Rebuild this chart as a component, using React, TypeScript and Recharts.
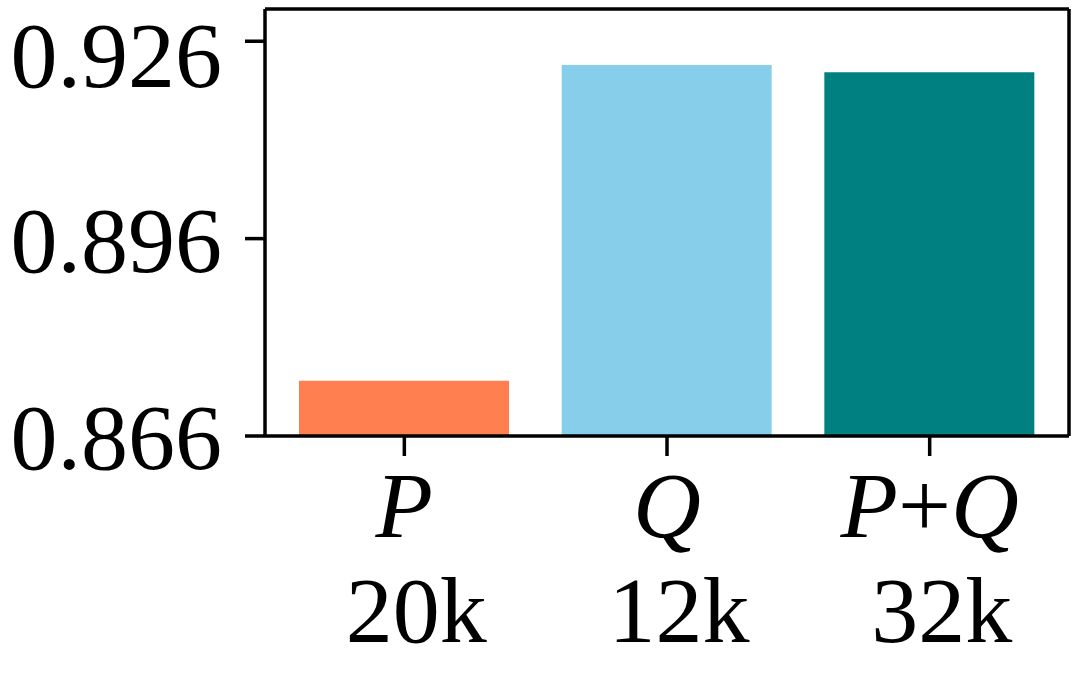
import React from "react";
import { BarChart, Bar, XAxis, YAxis, Cell } from "recharts";

const categories = ["P", "Q", "P+Q"];
const sizes = ["20k", "12k", "32k"];
const scores = [0.8744, 0.9224, 0.9213];
const colors = ["#FF7F50", "#87CEEB", "#008080"];
const yTicks = [0.866, 0.896, 0.926];

const data = categories.map((c, i) => ({ name: c, size: sizes[i], value: scores[i] }));

const FONT = "Liberation Serif, Times New Roman, Times, serif";
const FS = 94;
const LINE = { stroke: "#000", strokeWidth: 3.5 };

const XTick = (props: any) => {
  const { x, y, payload, index } = props;
  const label: string = payload.value;
  const parts = label.split("+");
  const size = sizes[index];
  return (
    <g>
      <text x={x} y={y + 81} textAnchor="middle" fontFamily={FONT} fontSize={FS} fill="#000" stroke="none">
        {parts.map((p, i) => (
          <React.Fragment key={i}>
            {i > 0 && <tspan fontStyle="normal">+</tspan>}
            <tspan fontStyle="italic">{p}</tspan>
          </React.Fragment>
        ))}
      </text>
      <text x={x + 12} y={y + 186} textAnchor="middle" fontFamily={FONT} fontSize={FS} fill="#000" stroke="none">
        {size}
      </text>
    </g>
  );
};

export default function App() {
  return (
    <div style={{ position: "absolute", left: 0, top: 0, background: "#fff" }}>
      <BarChart
        width={1078}
        height={674}
        data={data}
        margin={{ top: 8, right: 8, bottom: 0, left: 0 }}
      >
        <XAxis
          dataKey="name"
          xAxisId="top"
          orientation="top"
          height={1}
          tick={false}
          tickLine={false}
          stroke="#000"
          strokeWidth={3.5}
          axisLine={LINE}
          padding={{ left: 8, right: 8 }}
        />
        <YAxis
          yAxisId="right"
          orientation="right"
          width={1}
          tick={false}
          tickLine={false}
          stroke="#000"
          strokeWidth={3.5}
          axisLine={LINE}
          domain={[0.866, 0.9309]}
        />
        <XAxis
          dataKey="name"
          height={238}
          tickSize={20}
          tickMargin={0}
          stroke="#000"
          strokeWidth={3.5}
          tickLine={LINE}
          axisLine={LINE}
          padding={{ left: 8, right: 8 }}
          tick={<XTick />}
          interval={0}
        />
        <YAxis
          width={265}
          domain={[0.866, 0.9309]}
          ticks={yTicks}
          allowDataOverflow
          tickSize={20}
          tickMargin={23}
          stroke="#000"
          strokeWidth={3.5}
          tickFormatter={(v: number) => v.toFixed(3)}
          tickLine={LINE}
          axisLine={LINE}
          tick={{ fontFamily: FONT, fontSize: FS, fill: "#000", stroke: "none" }}
        />
        <Bar dataKey="value" barSize={210} isAnimationActive={false}>
          {data.map((d, i) => (
            <Cell key={d.name} fill={colors[i]} />
          ))}
        </Bar>
        <Bar
          dataKey="value"
          xAxisId="top"
          yAxisId="right"
          barSize={0}
          fill="none"
          isAnimationActive={false}
        />
      </BarChart>
    </div>
  );
}
